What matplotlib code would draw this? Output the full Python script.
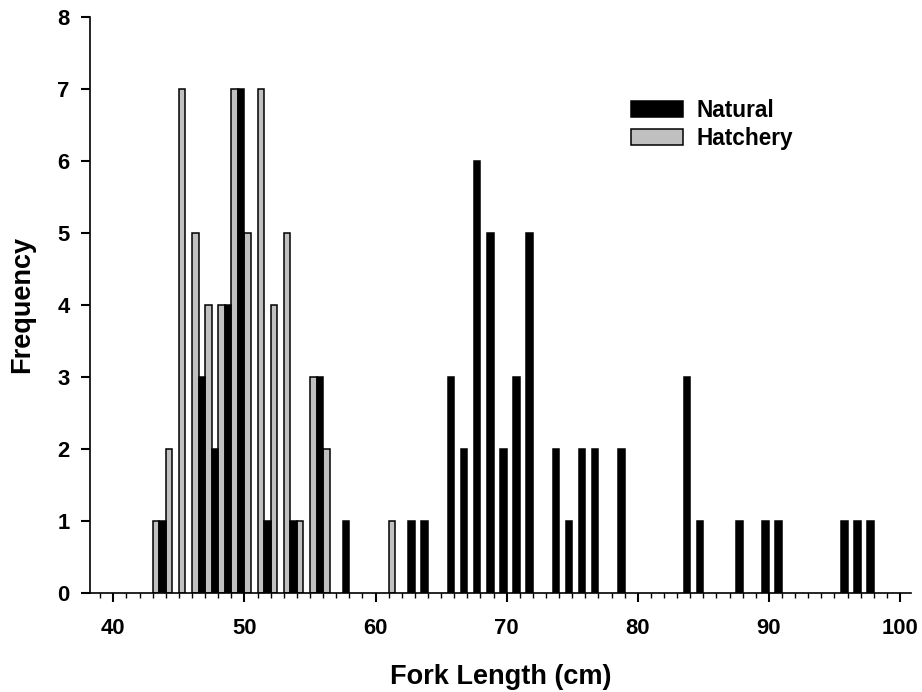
import matplotlib
matplotlib.use("Agg")
import matplotlib.pyplot as plt
from matplotlib.ticker import MultipleLocator

# ── data: 1-cm fork-length bins (lower edge) and counts ───────────────────────
natural_bins   = [43, 46, 47, 48, 49, 51, 53, 55, 57, 62, 63, 65, 66, 67, 68, 69,
                  70, 71, 73, 74, 75, 76, 78, 83, 84, 87, 89, 90, 95, 96, 97]
natural_counts = [1, 3, 2, 4, 7, 1, 1, 3, 1, 1, 1, 3, 2, 6, 5, 2,
                  3, 5, 2, 1, 2, 2, 2, 3, 1, 1, 1, 1, 1, 1, 1]

hatchery_bins   = [43, 44, 45, 46, 47, 48, 49, 50, 51, 52, 53, 54, 55, 56, 61]
hatchery_counts = [1, 2, 7, 5, 4, 4, 7, 5, 7, 4, 5, 1, 3, 2, 1]

FONT = "Liberation Sans"
BAR_W = 0.5

fig = plt.figure(figsize=(9.22, 6.92), dpi=100)
ax = fig.add_axes([0.0976, 0.1435, 0.8902, 0.8324])

# hatchery on the left half of each bin, natural on the right half
ax.bar(hatchery_bins, hatchery_counts, width=BAR_W, align="edge",
       color="#c0c0c0", edgecolor="black", linewidth=1.1, label="Hatchery")
ax.bar([b + BAR_W for b in natural_bins], natural_counts, width=BAR_W,
       align="edge", color="black", edgecolor="black", linewidth=1.1,
       label="Natural")

ax.set_xlim(38.22, 100.82)
ax.set_ylim(0, 8)
ax.xaxis.set_major_locator(MultipleLocator(10))
ax.xaxis.set_minor_locator(MultipleLocator(1))
ax.yaxis.set_major_locator(MultipleLocator(1))

for s in ("top", "right"):
    ax.spines[s].set_visible(False)
for s in ("left", "bottom"):
    ax.spines[s].set_linewidth(1.2)

ax.tick_params(axis="x", which="major", direction="out", length=6.5, width=1.5, pad=12)
ax.tick_params(axis="x", which="minor", direction="out", length=3.4, width=1.0)
ax.tick_params(axis="y", which="major", direction="out", length=6.7, width=1.5, pad=8)

for lab in ax.get_xticklabels() + ax.get_yticklabels():
    lab.set_fontfamily(FONT)
    lab.set_fontweight("bold")
    lab.set_fontsize(15.8)

ax.set_xlabel("Fork Length (cm)", fontfamily=FONT, fontweight="bold",
              fontsize=19.5, labelpad=18)
ax.set_ylabel("Frequency", fontfamily=FONT, fontweight="bold",
              fontsize=19.5, labelpad=16)

handles, labels = ax.get_legend_handles_labels()
leg = ax.legend(handles[::-1], labels[::-1], loc="upper left",
                bbox_to_anchor=(0.659, 0.857), frameon=False,
                prop={"family": FONT, "weight": "bold", "size": 16.3},
                handlelength=2.3, handleheight=0.75, handletextpad=0.6,
                labelspacing=0.22, borderpad=0, borderaxespad=0)

fig.savefig("out.png", dpi=100)
